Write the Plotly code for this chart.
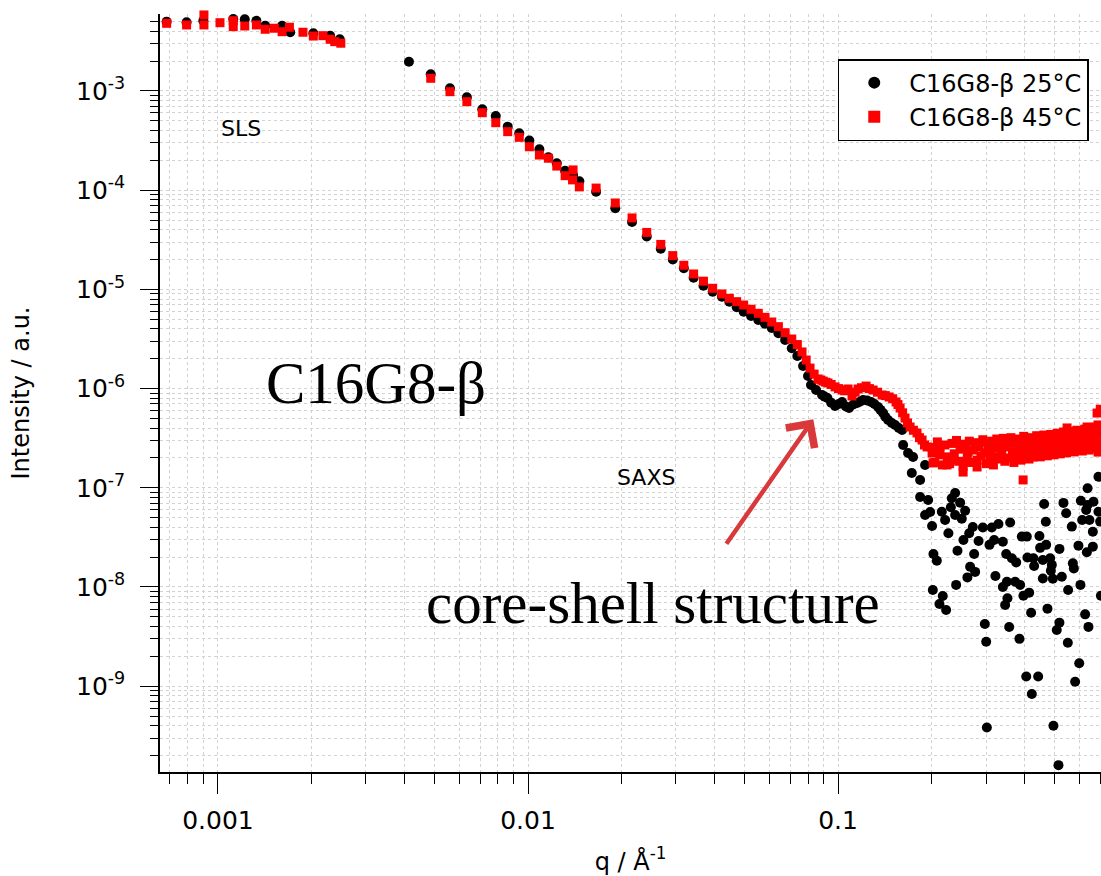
import plotly.graph_objects as go

# ---------------- data ----------------
# C16G8-beta 25 degC  (black circles)
q_25 = [
    6.83e-4, 7.92e-4, 8.97e-4, 1.12e-3, 1.22e-3, 1.33e-3, 1.42e-3, 1.61e-3, 1.71e-3, 2.03e-3, 2.30e-3, 2.47e-3,
    0.00413, 0.004855, 0.00560, 0.00635, 0.00712, 0.00787, 0.00860, 0.00937, 0.01010, 0.01088, 0.01163, 0.01238,
    0.01317, 0.01397, 0.01464, 0.01658, 0.01912, 0.02165, 0.02415, 0.02680, 0.02930, 0.03180, 0.03420, 0.03680,
    0.03940, 0.04220, 0.04460, 0.04710, 0.04960, 0.05240, 0.05530, 0.05810, 0.06110, 0.06420, 0.06750, 0.07090,
    0.07390, 0.07710, 0.08000, 0.08180, 0.08490, 0.08880, 0.09050, 0.09240, 0.09500, 0.09780, 0.10050, 0.10300,
    0.10600, 0.10850, 0.11200, 0.11520, 0.11800, 0.12040, 0.12400, 0.12780, 0.13100, 0.13460, 0.13700, 0.13970,
    0.14200, 0.14500, 0.14900, 0.15270, 0.15700, 0.16090, 0.16210, 0.16820, 0.17450, 0.17290, 0.18390, 0.19080,
    0.18390, 0.19520, 0.19080, 0.19810, 0.20100,
    0.2160, 0.2214, 0.2327, 0.2385, 0.2310, 0.2475, 0.2569, 0.2506, 0.2385, 0.2269, 0.2030, 0.2082, 0.2427,
    0.2537, 0.2648, 0.2720, 0.2839, 0.2747, 0.2666, 0.2767, 0.2613, 0.2403, 0.2021, 0.2176, 0.2123, 0.2231,
    0.2930, 0.3132, 0.3078, 0.3187, 0.3290, 0.3589, 0.3400, 0.3485, 0.3635, 0.3754, 0.3217, 0.3503, 0.3400,
    0.3725, 0.3865, 0.3518, 0.3458, 0.3961, 0.4134, 0.2974, 0.3004, 0.3563, 0.3846, 0.3914, 0.4061, 0.4461,
    0.4484, 0.4689, 0.4080, 0.4267, 0.4289, 0.4575, 0.4830, 0.4891, 0.4856, 0.4575, 0.4928, 0.5268, 0.4620,
    0.4678, 0.5332, 0.5441, 0.5674, 0.5176, 0.5521, 0.5717, 0.5760, 0.5960, 0.6048, 0.6344, 0.6633, 0.6633,
    0.6468, 0.6127, 0.6066, 0.6378, 0.6378, 0.6663, 0.6915, 0.7002, 0.7090, 0.6312, 0.4735, 0.4194, 0.5175,
    0.5074, 0.6264, 0.6420, 0.5508, 0.4045, 0.4419, 0.4216, 0.5995, 0.5815, 0.3019, 0.4950, 0.5138, 0.7041,
    0.6915,
]
I_25 = [
    5.00e-3, 4.93e-3, 5.11e-3, 5.32e-3, 5.28e-3, 5.11e-3, 4.55e-3, 4.55e-3, 3.91e-3, 3.82e-3, 3.61e-3, 3.32e-3,
    1.974e-3, 1.473e-3, 1.065e-3, 8.64e-4, 6.54e-4, 5.60e-4, 4.37e-4, 3.75e-4, 3.16e-4, 2.58e-4, 2.15e-4, 1.87e-4,
    1.57e-4, 1.42e-4, 1.23e-4, 9.66e-5, 6.57e-5, 4.78e-5, 3.41e-5, 2.57e-5, 2.00e-5, 1.63e-5, 1.31e-5, 1.09e-5,
    9.48e-6, 8.44e-6, 7.52e-6, 6.60e-6, 5.96e-6, 5.39e-6, 4.91e-6, 4.50e-6, 4.08e-6, 3.61e-6, 3.09e-6, 2.55e-6,
    2.13e-6, 1.69e-6, 1.34e-6, 1.087e-6, 9.68e-7, 8.62e-7, 8.30e-7, 8.04e-7, 7.20e-7, 6.68e-7, 7.00e-7, 7.33e-7,
    6.60e-7, 6.37e-7, 6.90e-7, 7.16e-7, 7.40e-7, 7.68e-7, 7.60e-7, 7.33e-7, 7.00e-7, 6.52e-7, 6.10e-7, 5.68e-7,
    5.20e-7, 4.83e-7, 4.50e-7, 4.30e-7, 4.00e-7, 3.83e-7, 2.70e-7, 2.24e-7, 2.04e-7, 1.41e-7, 1.20e-7, 1.70e-7,
    8.08e-8, 7.53e-8, 5.32e-8, 5.70e-8, 4.12e-8,
    5.74e-8, 4.74e-8, 7.84e-8, 8.86e-8, 6.36e-8, 7.08e-8, 5.87e-8, 4.88e-8, 5.32e-8, 3.48e-8, 2.15e-8, 1.84e-8, 2.32e-8,
    2.98e-8, 3.48e-8, 4.03e-8, 2.91e-8, 2.15e-8, 1.60e-8, 1.42e-8, 1.25e-8, 1.05e-8, 9.33e-9, 8.12e-9, 6.75e-9, 5.86e-9,
    3.98e-8, 3.98e-8, 2.66e-8, 2.98e-8, 4.32e-8, 4.46e-8, 2.86e-8, 2.15e-8, 1.95e-8, 1.77e-8, 1.29e-8, 1.13e-8, 1.00e-8,
    1.13e-8, 1.05e-8, 7.71e-9, 6.59e-9, 8.16e-9, 8.77e-9, 4.24e-9, 2.81e-9, 3.95e-9, 3.00e-9, 3.22e-8, 3.22e-8, 3.27e-8,
    2.48e-8, 2.66e-8, 1.98e-8, 1.95e-8, 1.63e-8, 1.87e-8, 1.95e-8, 1.67e-8, 1.46e-8, 1.22e-8, 1.21e-8, 1.27e-8, 6.87e-8,
    4.55e-8, 7.04e-8, 5.53e-8, 4.06e-8, 2.42e-8, 9.33e-9, 1.73e-8, 1.54e-8, 2.61e-8, 1.05e-8, 2.24e-8, 2.55e-8, 3.61e-8,
    4.74e-8, 4.74e-8, 7.41e-8, 9.90e-8, 6.71e-8, 7.24e-8, 5.74e-8, 4.56e-8, 3.27e-8, 5.97e-8, 6.05e-9, 5.51e-9, 4.37e-9,
    3.69e-9, 5.30e-9, 3.96e-9, 2.74e-9, 1.25e-9, 1.25e-9, 8.35e-10, 1.70e-9, 1.11e-9, 3.83e-10, 4.00e-10, 1.60e-10, 8.16e-9,
    1.29e-7,
]

# C16G8-beta 45 degC  (red squares)
q_45 = [
    6.83e-4, 7.92e-4, 9.01e-4, 9.01e-4, 1.015e-3, 1.12e-3, 1.12e-3, 1.22e-3, 1.33e-3, 1.42e-3, 1.52e-3, 1.61e-3,
    1.70e-3, 1.88e-3, 2.03e-3, 2.18e-3, 2.30e-3, 2.38e-3, 2.49e-3,
    0.004855, 0.00560, 0.00635, 0.00712, 0.00787, 0.00860, 0.00937, 0.01010, 0.01088, 0.01163, 0.01238, 0.01317,
    0.01397, 0.01392, 0.01464, 0.01658, 0.01912, 0.02165, 0.02415, 0.02680, 0.02930, 0.03180, 0.03420, 0.03680,
    0.03940, 0.04220, 0.04460, 0.04710, 0.04960, 0.05240, 0.05530, 0.05810, 0.06110, 0.06420, 0.06750, 0.07090,
    0.07390, 0.0765, 0.0789, 0.0812, 0.0837, 0.0862, 0.0880, 0.0895, 0.0912, 0.0928, 0.0950, 0.0978, 0.1003,
    0.1030, 0.1050, 0.1077, 0.1109, 0.1135, 0.1160, 0.1190, 0.1231, 0.1262, 0.1297, 0.1340, 0.1387, 0.1420,
    0.1461, 0.1500, 0.1538, 0.1560, 0.1585, 0.1615, 0.1644, 0.1675, 0.1707, 0.1750, 0.1797, 0.1830, 0.1866,
    0.1900, 0.1937, 0.2010, 0.2025, 0.2133, 0.2246, 0.2349, 0.2475, 0.2531, 0.2627, 0.2808, 0.2937, 0.3093,
    0.3256, 0.3406, 0.3589, 0.3779, 0.3952, 0.4102, 0.4257, 0.4484, 0.4722, 0.4937, 0.5202, 0.5477, 0.5727,
    0.6035, 0.6355, 0.6645, 0.6845, 0.6896,
    0.201, 0.205, 0.209, 0.213, 0.217, 0.221, 0.225, 0.229, 0.233, 0.237, 0.241, 0.245, 0.249, 0.253, 0.257,
    0.261, 0.265, 0.269, 0.273, 0.277, 0.281, 0.285, 0.289, 0.293, 0.297, 0.301, 0.305, 0.309, 0.313, 0.317,
    0.321, 0.325, 0.329, 0.333, 0.337, 0.341, 0.345, 0.349, 0.353, 0.357, 0.361, 0.365, 0.369, 0.373, 0.377,
    0.381, 0.385, 0.389, 0.393, 0.397, 0.401, 0.405, 0.409, 0.413, 0.417, 0.421, 0.425, 0.429, 0.433, 0.437,
    0.441, 0.445, 0.449, 0.453, 0.457, 0.461, 0.465, 0.469, 0.473, 0.477, 0.481, 0.485, 0.489, 0.493, 0.497,
    0.501, 0.505, 0.509, 0.513, 0.517, 0.521, 0.525, 0.529, 0.533, 0.537, 0.541, 0.545, 0.549, 0.553, 0.557,
    0.561, 0.565, 0.569, 0.573, 0.577, 0.581, 0.585, 0.589, 0.593, 0.597, 0.601, 0.605, 0.609, 0.613, 0.617,
    0.621, 0.625, 0.629, 0.633, 0.637, 0.641, 0.645, 0.649, 0.653, 0.657, 0.661, 0.665, 0.669, 0.673, 0.677,
    0.681, 0.685, 0.689, 0.693, 0.697, 0.701, 0.705,
]
I_45 = [
    4.81e-3, 4.63e-3, 5.84e-3, 4.63e-3, 4.88e-3, 5.11e-3, 4.45e-3, 4.52e-3, 4.63e-3, 4.19e-3, 4.29e-3, 3.96e-3,
    4.39e-3, 3.91e-3, 3.58e-3, 3.61e-3, 3.32e-3, 3.14e-3, 3.03e-3,
    1.343e-3, 9.84e-4, 7.80e-4, 6.04e-4, 4.79e-4, 3.89e-4, 3.41e-4, 2.74e-4, 2.26e-4, 2.10e-4, 1.75e-4, 1.40e-4,
    1.60e-4, 1.27e-4, 1.08e-4, 1.05e-4, 7.43e-5, 5.25e-5, 3.75e-5, 2.84e-5, 2.19e-5, 1.75e-5, 1.43e-5, 1.21e-5,
    1.026e-5, 8.99e-6, 8.13e-6, 7.52e-6, 6.96e-6, 6.30e-6, 5.74e-6, 5.23e-6, 4.69e-6, 4.21e-6, 3.66e-6, 3.16e-6,
    2.78e-6, 2.34e-6, 1.94e-6, 1.61e-6, 1.40e-6, 1.25e-6, 1.22e-6, 1.19e-6, 1.16e-6, 1.14e-6, 1.10e-6, 1.04e-6, 1.00e-6,
    9.68e-7, 9.50e-7, 9.91e-7, 8.42e-7, 9.20e-7, 9.91e-7, 1.02e-6, 1.06e-6, 1.00e-6, 9.68e-7, 9.20e-7, 8.62e-7, 8.50e-7,
    8.23e-7, 7.90e-7, 7.33e-7, 6.90e-7, 6.37e-7, 5.70e-7, 5.05e-7, 4.50e-7, 4.10e-7, 3.80e-7, 3.57e-7, 3.20e-7, 3.03e-7,
    2.70e-7, 2.58e-7, 2.24e-7, 1.78e-7, 2.58e-7, 1.70e-7, 1.91e-7, 2.58e-7, 1.44e-7, 2.29e-7, 1.62e-7, 2.89e-7, 2.40e-7,
    2.04e-7, 2.58e-7, 2.83e-7, 2.24e-7, 1.20e-7, 2.70e-7, 2.04e-7, 2.83e-7, 3.17e-7, 2.58e-7, 3.03e-7, 4.01e-7, 2.83e-7,
    3.57e-7, 4.10e-7, 3.03e-7, 5.67e-7, 2.29e-7,
    2.55e-7, 1.80e-7, 2.90e-7, 2.15e-7, 1.70e-7, 2.70e-7, 2.05e-7, 1.75e-7, 2.80e-7, 2.20e-7, 3.00e-7, 1.85e-7, 2.45e-7, 1.65e-7, 2.75e-7,
    2.00e-7, 2.95e-7, 1.80e-7, 2.40e-7, 2.85e-7, 1.90e-7, 2.60e-7, 2.10e-7, 3.05e-7, 2.25e-7, 1.75e-7, 2.70e-7, 2.05e-7, 2.95e-7, 1.70e-7,
    2.50e-7, 3.10e-7, 1.95e-7, 2.75e-7, 2.15e-7, 3.15e-7, 1.85e-7, 2.60e-7, 2.90e-7, 2.00e-7, 3.20e-7, 2.30e-7, 1.80e-7, 2.80e-7, 2.15e-7,
    3.10e-7, 2.45e-7, 1.90e-7, 2.85e-7, 3.30e-7, 2.20e-7, 3.00e-7, 2.55e-7, 1.95e-7, 3.20e-7, 2.65e-7, 2.10e-7, 3.05e-7, 2.40e-7, 3.35e-7,
    2.20e-7, 2.95e-7, 2.05e-7, 3.25e-7, 2.55e-7, 3.40e-7, 2.25e-7, 3.00e-7, 2.10e-7, 3.30e-7, 2.60e-7, 3.45e-7, 2.30e-7, 3.10e-7, 2.15e-7,
    3.35e-7, 2.65e-7, 3.55e-7, 2.35e-7, 3.15e-7, 2.20e-7, 3.40e-7, 2.75e-7, 3.65e-7, 2.40e-7, 3.20e-7, 2.25e-7, 3.50e-7, 2.80e-7, 2.35e-7,
    3.45e-7, 2.55e-7, 3.70e-7, 2.90e-7, 2.30e-7, 3.55e-7, 2.70e-7, 3.80e-7, 2.40e-7, 3.30e-7, 2.60e-7, 3.65e-7, 2.95e-7, 2.35e-7, 3.50e-7,
    2.70e-7, 3.90e-7, 2.45e-7, 3.40e-7, 2.85e-7, 3.75e-7, 2.40e-7, 3.30e-7, 4.00e-7, 2.65e-7, 3.55e-7, 2.50e-7, 3.85e-7, 3.00e-7, 4.10e-7,
    2.60e-7, 3.45e-7, 4.30e-7, 2.80e-7, 3.70e-7, 6.20e-7, 3.10e-7,
]

series_names = ["C16G8-\u03b2 25\u00b0C", "C16G8-\u03b2 45\u00b0C"]
x_tickvals = [0.001, 0.01, 0.1]
x_ticktext = ["0.001", "0.01", "0.1"]
y_exponents = [-9, -8, -7, -6, -5, -4, -3]

# ---------------- figure ----------------
FONT = "DejaVu Sans"
GRID = "#d2d2d2"

fig = go.Figure()
fig.add_trace(go.Scatter(
    x=q_25, y=I_25, mode="markers", name=series_names[0], cliponaxis=False,
    marker=dict(symbol="circle", size=10, color="black", line=dict(width=0)),
))
fig.add_trace(go.Scatter(
    x=q_45, y=I_45, mode="markers", name=series_names[1], cliponaxis=False,
    marker=dict(symbol="square", size=9, color="#ff0000", line=dict(width=0)),
))

x_minor = [k * 10.0 ** e for e in range(-4, 0) for k in range(2, 10)]
y_minor = [k * 10.0 ** e for e in range(-10, -2) for k in range(2, 10)]

fig.update_layout(
    width=1101, height=876,
    margin=dict(l=160, r=0, t=14, b=104, pad=0),
    paper_bgcolor="white", plot_bgcolor="white",
    font=dict(family=FONT, size=25, color="black"),
    showlegend=True,
    legend=dict(
        x=0.987, y=0.9406, xanchor="right", yanchor="top",
        bgcolor="white", bordercolor="black", borderwidth=1.5,
        font=dict(family=FONT, size=24, color="black"),
        itemsizing="constant", itemwidth=60,
    ),
    xaxis=dict(
        type="log", range=[-3.187, -0.152],
        showline=True, linecolor="black", linewidth=1.5, mirror=False, zeroline=False,
        ticks="outside", ticklen=20, tickwidth=1, tickcolor="black",
        tickvals=x_tickvals, ticktext=x_ticktext, ticklabelstandoff=5,
        showgrid=True, gridcolor=GRID, griddash="dot", gridwidth=1,
        minor=dict(tickvals=x_minor, ticks="outside", ticklen=10, tickwidth=1, tickcolor="black",
                   showgrid=True, gridcolor=GRID, griddash="dot", gridwidth=1),
        title=dict(text="q / \u00c5<sup>-1</sup>", font=dict(family=FONT, size=24), standoff=19),
        automargin=False,
    ),
    yaxis=dict(
        type="log", range=[-9.865, -2.224],
        showline=True, linecolor="black", linewidth=1.5, mirror=False, zeroline=False,
        ticks="outside", ticklen=18, tickwidth=1, tickcolor="black",
        tickvals=[10.0 ** e for e in y_exponents],
        ticktext=["10<sup>%d</sup>" % e for e in y_exponents], ticklabelstandoff=10,
        showgrid=True, gridcolor=GRID, griddash="dot", gridwidth=1,
        minor=dict(tickvals=y_minor, ticks="outside", ticklen=8, tickwidth=1, tickcolor="black",
                   showgrid=True, gridcolor=GRID, griddash="dot", gridwidth=1),
        title=dict(text="Intensity / a.u.", font=dict(family=FONT, size=24), standoff=40),
        automargin=False,
    ),
)

def label(x, y, text, family, size):
    fig.add_annotation(xref="paper", yref="paper", x=x, y=y, text=text, showarrow=False,
                       xanchor="center", yanchor="middle",
                       font=dict(family=family, size=size, color="black"))

label(0.0861, 0.8496, "SLS", FONT, 22)
label(0.5165, 0.3879, "SAXS", FONT, 22)
label(0.2295, 0.5132, "C16G8-\u03b2", "Liberation Serif", 59)
label(0.5239, 0.2230, "core-shell structure", "Liberation Serif", 59)

fig.add_annotation(xref="paper", yref="paper", x=0.6943, y=0.4653, text="", showarrow=True,
                   ax=-88, ay=126, arrowhead=4, arrowsize=1.5, arrowwidth=4.5, arrowcolor="#d9393b",
                   standoff=0)

fig.write_html("out.html", config={"displayModeBar": False},
               post_script="document.body.style.margin='0px';")
